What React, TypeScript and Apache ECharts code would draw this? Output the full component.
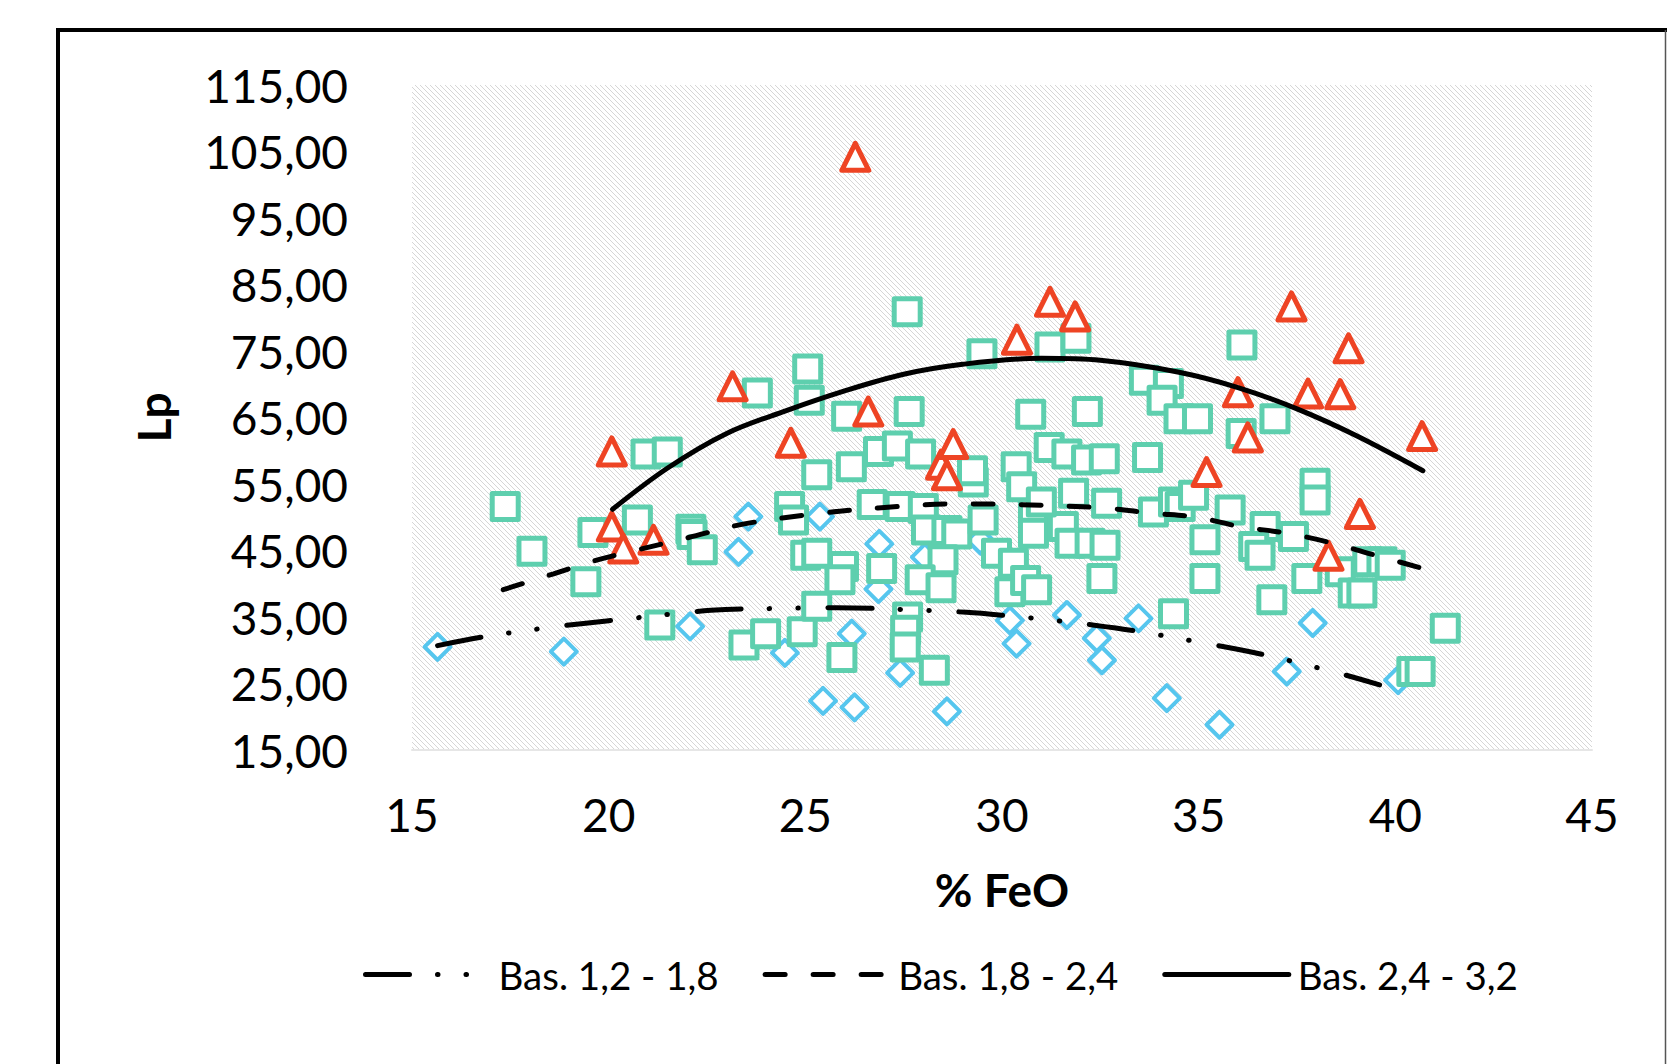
import React, { useEffect, useRef } from 'react';
import * as echarts from 'echarts';

// ---- axis ticks ----
const xTicks = [15, 20, 25, 30, 35, 40, 45];
const yTicks = [15, 25, 35, 45, 55, 65, 75, 85, 95, 105, 115];

// ---- series names ----
const seriesNames = ['Bas. 1,2 - 1,8', 'Bas. 1,8 - 2,4', 'Bas. 2,4 - 3,2'];

// ---- measured points: basicity 1,2 - 1,8 (blue diamonds) ----
const lowBasPoints: number[][] = [
  [15.65, 30.5], [18.86, 29.8], [22.07, 33.6], [23.3, 44.8], [23.55, 50.1], [24.48, 29.6],
  [25.37, 50.1], [25.45, 22.4], [26.25, 21.4], [26.18, 32.5], [26.88, 46.0], [26.86, 39.2],
  [27.41, 26.6], [28.04, 44.0], [28.6, 20.8], [29.45, 46.5], [30.2, 34.5], [30.37, 31.0],
  [31.65, 35.3], [32.41, 31.8], [32.54, 28.5], [33.47, 34.8], [34.19, 22.8], [35.53, 18.8],
  [37.24, 26.8], [37.9, 34.1], [40.07, 25.5],
];

// ---- measured points: basicity 1,8 - 2,4 (green squares) ----
const midBasPoints: number[][] = [
  [17.37, 51.6], [18.05, 44.9], [19.42, 40.3], [19.6, 47.7], [20.73, 49.6], [20.95, 59.5],
  [21.49, 59.8], [21.3, 33.8], [22.09, 48.2], [22.12, 47.4], [22.38, 45.1], [23.44, 30.8],
  [23.78, 68.7], [23.99, 32.5], [24.6, 51.6], [24.7, 49.6], [24.92, 32.8], [25.06, 72.3],
  [25.1, 67.6], [25.29, 56.4], [25.01, 44.3], [25.29, 44.6], [25.29, 36.6], [25.97, 42.6],
  [25.93, 28.9], [26.05, 65.2], [26.17, 57.6], [25.88, 40.6], [26.86, 59.9], [27.34, 60.7],
  [26.7, 51.9], [26.94, 42.3], [27.41, 51.6], [27.59, 80.9], [27.64, 65.9], [27.93, 59.5],
  [28.0, 51.3], [27.6, 35.0], [27.55, 33.0], [27.54, 30.5], [28.28, 27.0], [28.08, 48.1],
  [28.6, 48.0], [28.85, 47.5], [28.5, 43.6], [27.92, 40.6], [28.45, 39.4], [29.27, 55.3],
  [29.25, 57.0], [29.52, 49.6], [29.86, 44.6], [29.49, 74.6], [30.2, 38.8], [30.29, 43.1],
  [30.36, 57.6], [30.73, 65.5], [30.8, 50.7], [30.8, 47.6], [30.6, 40.5], [30.88, 39.1],
  [31.22, 75.6], [31.88, 76.9], [31.2, 60.5], [31.65, 59.5], [32.17, 65.9], [32.15, 58.6],
  [32.6, 58.8], [31.82, 53.6], [32.66, 52.1], [31.56, 48.6], [31.73, 46.1], [32.24, 46.1],
  [32.62, 45.8], [32.54, 40.8], [33.62, 70.6], [34.23, 70.1], [34.07, 67.6], [34.5, 64.8],
  [34.97, 64.8], [33.7, 59.0], [33.85, 50.8], [34.36, 52.3], [34.53, 51.6], [34.87, 53.3],
  [34.36, 35.5], [35.16, 46.6], [35.16, 40.8], [35.8, 51.1], [36.1, 75.9], [36.08, 62.6],
  [36.94, 64.8], [36.69, 48.6], [36.4, 45.6], [36.56, 44.3], [37.41, 47.1], [36.86, 37.6],
  [37.75, 40.8], [37.96, 55.1], [37.96, 52.6], [38.6, 41.8], [38.93, 38.6], [39.15, 38.6],
  [39.3, 43.3], [39.66, 43.3], [39.87, 42.8], [41.27, 33.3], [40.42, 26.8], [40.63, 26.8],
  [30.5, 54.6], [31.0, 52.3],
];

// ---- measured points: basicity 2,4 - 3,2 (red triangles) ----
const highBasPoints: number[][] = [
  [26.27, 104.2], [20.08, 59.9], [20.08, 48.6], [20.37, 45.3], [21.14, 46.6], [23.15, 69.7],
  [24.63, 61.2], [26.6, 65.9], [28.45, 57.9], [28.76, 61.0], [28.6, 56.3], [30.38, 76.7],
  [31.22, 82.4], [31.86, 80.2], [35.2, 56.8], [36.0, 68.8], [36.25, 62.0], [37.36, 81.7],
  [37.78, 68.6], [38.6, 68.5], [38.81, 75.4], [39.1, 50.5], [38.3, 44.2], [40.68, 62.2],
];

// ---- trend curves ----
const lowBasTrend: number[][] = [
  [15.65, 30.7], [16.8, 32.0], [18.2, 33.2], [19.3, 34.0], [20.6, 34.8], [22.6, 36.0],
  [24.5, 36.3], [25.8, 36.4], [27.8, 36.05], [29.1, 35.7], [30.3, 35.1], [31.0, 34.7],
  [32.3, 33.8], [33.5, 32.8], [35.4, 30.8], [36.6, 29.4], [38.4, 26.8], [39.6, 24.8],
];
const midBasTrend: number[][] = [
  [17.32, 39.1], [18.6, 41.5], [19.55, 43.3], [20.53, 44.8], [22.0, 46.9], [23.45, 49.0],
  [25.4, 50.6], [26.85, 51.4], [28.8, 52.0], [30.46, 51.9], [32.57, 51.4], [33.84, 50.6],
  [34.95, 50.0], [36.05, 48.6], [37.24, 47.6], [38.34, 46.2], [39.36, 44.5], [40.76, 42.2],
];
const highBasTrend: number[][] = [
  [20.1, 51.2], [21.5, 57.4], [23.0, 62.6], [24.5, 66.0], [26.0, 69.0], [27.5, 71.5],
  [29.0, 73.0], [31.0, 73.9], [32.5, 73.6], [34.5, 71.8], [36.0, 69.5], [37.5, 66.3],
  [39.0, 62.3], [40.7, 57.0],
];

const FONT = 'Lato, "Open Sans", sans-serif';
const BLUE = '#56c6ee';
const GREEN = '#5ecfae';
const RED = '#ee4424';

export default function App() {
  const ref = useRef<HTMLDivElement>(null);

  useEffect(() => {
    const el = ref.current;
    if (!el) return;
    const chart = echarts.init(el, undefined, { renderer: 'svg' });

    const tile = document.createElement('canvas');
    tile.width = 5;
    tile.height = 5;
    const ctx = tile.getContext('2d');
    if (ctx) {
      ctx.fillStyle = '#ffffff';
      ctx.fillRect(0, 0, 5, 5);
      ctx.strokeStyle = '#d6d6d6';
      ctx.lineWidth = 1;
      ctx.beginPath();
      ctx.moveTo(-1, -1); ctx.lineTo(6, 6);
      ctx.moveTo(-1, 4); ctx.lineTo(1, 6);
      ctx.moveTo(4, -1); ctx.lineTo(6, 1);
      ctx.stroke();
    }
    const hatch: any = { image: tile.toDataURL(), repeat: 'repeat', imageWidth: 5, imageHeight: 5 };

    const scatter = (name: string, data: number[][], symbol: string, size: number, color: string, bw: number, z: number) => ({
      name,
      type: 'scatter',
      data,
      symbol,
      symbolSize: size,
      z,
      itemStyle: { color: '#ffffff', borderColor: color, borderWidth: bw, borderJoin: 'round', opacity: 1 },
      emphasis: { disabled: true },
    });

    const trend = (name: string, data: number[][], type: any) => ({
      name,
      type: 'line',
      data,
      smooth: 0.35,
      symbol: 'none',
      showSymbol: false,
      z: 10,
      lineStyle: { color: '#000', width: 5, type, cap: 'round' },
      emphasis: { disabled: true },
    });

    chart.setOption({
      animation: false,
      backgroundColor: '#ffffff',
      grid: {
        left: 412, right: 75, top: 85, bottom: 314,
        show: true, backgroundColor: hatch, borderWidth: 0,
      },
      xAxis: {
        type: 'value', min: xTicks[0], max: xTicks[xTicks.length - 1], interval: 5,
        axisLine: { show: true, lineStyle: { color: '#e6e6e6', width: 2 } },
        axisTick: { show: false }, splitLine: { show: false },
        axisLabel: { fontFamily: FONT, fontSize: 46, color: '#000', margin: 41 },
        name: '% FeO', nameLocation: 'middle', nameGap: 116,
        nameTextStyle: { fontFamily: FONT, fontSize: 46, fontWeight: 'bold', color: '#000' },
      },
      yAxis: {
        type: 'value', min: yTicks[0], max: yTicks[yTicks.length - 1], interval: 10,
        axisLine: { show: false }, axisTick: { show: false }, splitLine: { show: false },
        axisLabel: {
          fontFamily: FONT, fontSize: 46, color: '#000', margin: 64,
          formatter: (v: number) => v.toFixed(2).replace('.', ','),
        },
        name: 'Lp', nameLocation: 'middle', nameGap: 236, nameRotate: 90,
        nameTextStyle: { fontFamily: FONT, fontSize: 46, fontWeight: 'bold', color: '#000' },
      },
      legend: {
        data: seriesNames,
        left: 363, top: 955, orient: 'horizontal', padding: 0,
        itemWidth: 124, itemHeight: 14, itemGap: 44,
        itemStyle: { opacity: 0 },
        lineStyle: { width: 5, cap: 'round' },
        textStyle: { fontFamily: FONT, fontSize: 38.5, color: '#000', padding: [0, 0, 0, 4] },
        selectedMode: false,
      },
      graphic: [
        { type: 'line', z: 100, shape: { x1: 58, y1: 30, x2: 1667, y2: 30 }, style: { stroke: '#000', lineWidth: 4 } },
        { type: 'line', z: 100, shape: { x1: 58, y1: 28, x2: 58, y2: 1064 }, style: { stroke: '#000', lineWidth: 4 } },
        { type: 'line', z: 100, shape: { x1: 1665.5, y1: 30, x2: 1665.5, y2: 1064 }, style: { stroke: '#555', lineWidth: 1.5 } },
      ],
      series: [
        scatter('Datos ' + seriesNames[0], lowBasPoints, 'diamond', 26, BLUE, 4, 2),
        scatter('Datos ' + seriesNames[1], midBasPoints, 'rect', 26, GREEN, 5, 3),
        scatter('Datos ' + seriesNames[2], highBasPoints, 'triangle', 27, RED, 5, 4),
        trend(seriesNames[0], lowBasTrend, [44, 28, 0.5, 28, 0.5, 30]),
        trend(seriesNames[1], midBasTrend, [20, 28]),
        trend(seriesNames[2], highBasTrend, 'solid'),
      ],
    });

    return () => chart.dispose();
  }, []);

  return (
    <div
      ref={ref}
      style={{ position: 'fixed', left: 0, top: 0, width: 1667, height: 1064, background: '#fff' }}
    />
  );
}
